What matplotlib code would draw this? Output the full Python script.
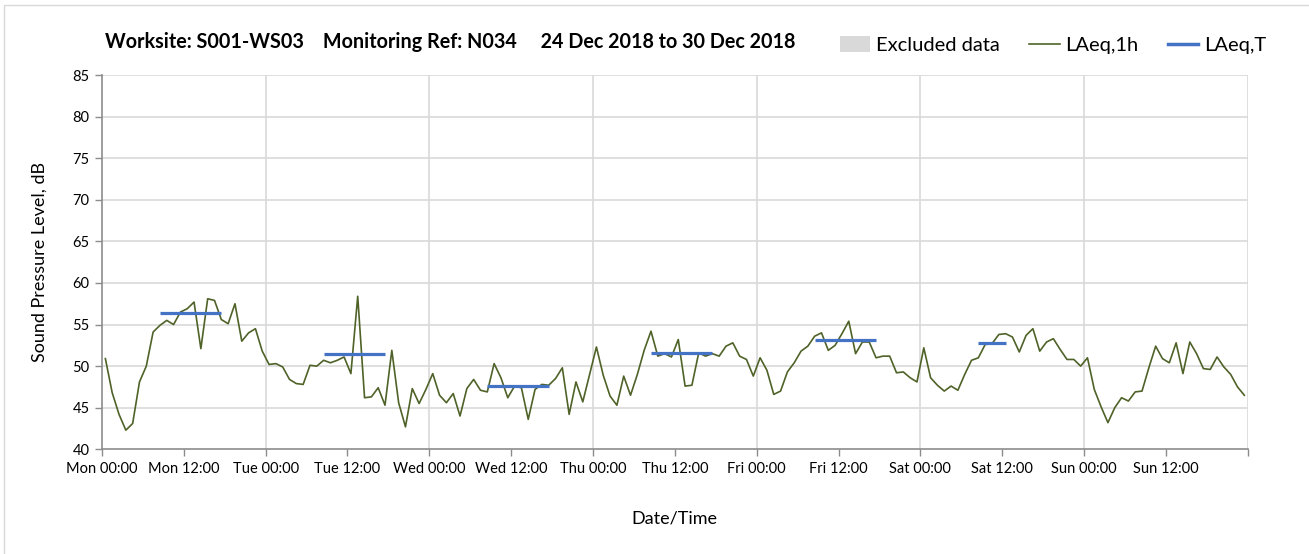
import numpy as np
import matplotlib
matplotlib.use("Agg")
import matplotlib.pyplot as plt
from matplotlib.patches import Patch, Rectangle
from matplotlib.lines import Line2D

plt.rcParams['font.family'] = ['Lato', 'DejaVu Sans']

# hourly LAeq,1h values, Mon 00:00 .. Sun 23:00
mon = [50.9, 46.8, 44.2, 42.3, 43.1, 48.1, 50.0, 54.1, 54.9, 55.5, 55.0, 56.5,
       56.9, 57.7, 52.1, 58.1, 57.9, 55.6, 55.1, 57.5, 53.0, 54.0, 54.5, 51.8]
tue = [50.2, 50.3, 49.9, 48.4, 47.9, 47.8, 50.1, 50.0, 50.7, 50.4, 50.7, 51.1,
       49.1, 58.4, 46.2, 46.3, 47.4, 45.3, 51.9, 45.6, 42.7, 47.3, 45.5, 47.2]
wed = [49.1, 46.5, 45.6, 46.7, 44.0, 47.3, 48.4, 47.1, 46.9, 50.3, 48.6, 46.2,
       47.6, 47.4, 43.6, 47.2, 47.8, 47.7, 48.5, 49.8, 44.2, 48.1, 45.7, 49.0]
thu = [52.3, 48.9, 46.4, 45.3, 48.8, 46.5, 49.0, 51.9, 54.2, 51.2, 51.5, 51.1,
       53.2, 47.6, 47.7, 51.6, 51.2, 51.5, 51.2, 52.4, 52.8, 51.2, 50.8, 48.8]
fri = [51.0, 49.5, 46.6, 47.0, 49.3, 50.4, 51.8, 52.4, 53.6, 54.0, 51.9, 52.5,
       53.9, 55.4, 51.5, 52.9, 52.9, 51.0, 51.2, 51.2, 49.2, 49.3, 48.6, 48.1]
sat = [52.2, 48.6, 47.7, 47.0, 47.6, 47.1, 49.0, 50.7, 51.0, 52.6, 52.7, 53.8,
       53.9, 53.5, 51.7, 53.7, 54.5, 51.8, 52.9, 53.3, 52.0, 50.8, 50.8, 50.0]
sun = [51.0, 47.2, 45.1, 43.2, 45.0, 46.2, 45.8, 46.9, 47.0, 49.8, 52.4, 50.9,
       50.4, 52.8, 49.1, 52.9, 51.5, 49.7, 49.6, 51.1, 49.9, 49.0, 47.5, 46.5]
laeq_1h = mon + tue + wed + thu + fri + sat + sun

# LAeq,T daytime periods (day index, first hour, last hour, level)
t_day = [0, 1, 2, 3, 4, 5]
t_first = [8, 8, 8, 8, 8, 8]
t_last = [17, 17, 17, 17, 17, 12]
t_level = [56.4, 51.5, 47.6, 51.6, 53.1, 52.8]

tick_labels = ['Mon 00:00', 'Mon 12:00', 'Tue 00:00', 'Tue 12:00', 'Wed 00:00', 'Wed 12:00',
               'Thu 00:00', 'Thu 12:00', 'Fri 00:00', 'Fri 12:00', 'Sat 00:00', 'Sat 12:00',
               'Sun 00:00', 'Sun 12:00', '']

green = '#4F6228'
blue = '#4472C4'
grid_c = '#D9D9D9'
axis_c = '#8C8C8C'

fig = plt.figure(figsize=(13.09, 5.54), dpi=100)
ax = fig.add_axes([0.0779, 0.189, 0.8753, 0.6756])

# outer chart border
fig.patches.append(Rectangle((4 / 1309, -0.1), 1.2, 1.1 - 5 / 554, transform=fig.transFigure,
                             fill=False, edgecolor='#D9D9D9', linewidth=1.0))

hours = np.arange(len(laeq_1h)) + 0.5
ax.plot(hours, laeq_1h, color=green, linewidth=1.2, zorder=3)

for d, a, b, v in zip(t_day, t_first, t_last, t_level):
    ax.plot([d * 24 + a + 0.5, d * 24 + b + 0.5], [v, v], color=blue, linewidth=2.3,
            solid_capstyle='butt', zorder=4)

ax.set_xlim(0, 168)
ax.set_ylim(40, 85)
ax.set_yticks(np.arange(40, 86, 5))
ax.set_xticks(np.arange(0, 169, 12))
ax.set_xticklabels(tick_labels)

ax.grid(False)
for y in np.arange(45, 86, 5):
    ax.axhline(y, color=grid_c, linewidth=1.2, zorder=1)
for x in np.arange(24, 169, 24):
    ax.axvline(x, color=grid_c, linewidth=1.2, zorder=1)

for s in ['top', 'right']:
    ax.spines[s].set_visible(False)
ax.spines['left'].set_color(axis_c)
ax.spines['bottom'].set_color(axis_c)
ax.spines['left'].set_linewidth(1.2)
ax.spines['bottom'].set_linewidth(1.2)
ax.tick_params(axis='both', which='major', color=axis_c, length=5, width=1.0,
               labelsize=10.5, labelcolor='#000000', pad=4)

ax.set_ylabel('Sound Pressure Level, dB', fontsize=13, labelpad=18)
ax.set_xlabel('Date/Time', fontsize=13, labelpad=25)

fig.text(105 / 1309, 1 - 42 / 554,
         'Worksite: S001-WS03    Monitoring Ref: N034     24 Dec 2018 to 30 Dec 2018',
         fontsize=14.2, fontweight='bold', va='center', ha='left')

handles = [Patch(facecolor=grid_c, edgecolor='none'),
           Line2D([], [], color=green, linewidth=1.2),
           Line2D([], [], color=blue, linewidth=2.5)]
fig.legend(handles, ['Excluded data', 'LAeq,1h', 'LAeq,T'], ncol=3, frameon=False,
           loc='center left', bbox_to_anchor=(826 / 1309, 1 - 45 / 554),
           fontsize=14.5, handlelength=1.5, handletextpad=0.3, columnspacing=1.45,
           handleheight=0.8, borderpad=0.2)

fig.savefig('out.png', dpi=100)
